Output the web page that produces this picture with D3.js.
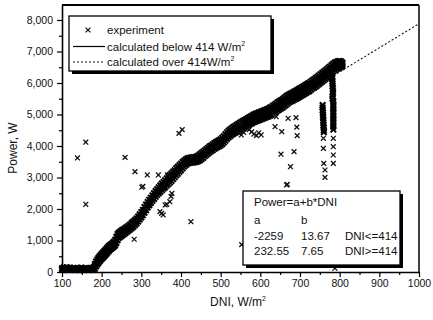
<!DOCTYPE html>
<html>
<head>
<meta charset="utf-8">
<script src="https://cdn.jsdelivr.net/npm/d3@7"></script>
<style>
  body { margin: 0; background: #fff; }
  svg { display: block; font-family: "Liberation Sans", Arial, sans-serif; }
</style>
</head>
<body>
<svg id="chart" width="433" height="320"></svg>
<script>
// ---- data ----
const xTicks = [100, 200, 300, 400, 500, 600, 700, 800, 900, 1000];
const xMinor = [150, 250, 350, 450, 550, 650, 750, 850, 950];
const yTicks = [0, 1000, 2000, 3000, 4000, 5000, 6000, 7000, 8000];
const yMinor = [500, 1500, 2500, 3500, 4500, 5500, 6500, 7500];

// experiment: each row is [DNI, power readings at that DNI...]
const bandRows = [
  [100, 60, 120], [104, 80, 140], [108, 70, 110], [112, 90, 150], [116, 60, 120],
  [120, 80, 140], [124, 70, 110], [128, 90, 130], [132, 60, 120], [136, 80, 100],
  [140, 70, 130], [144, 60, 110], [148, 80, 140], [152, 70, 120], [156, 60, 100],
  [160, 80, 130], [164, 70, 120], [168, 60, 110], [172, 80, 130], [176, 70, 120],
  [180, 90, 160],
  [183, 110, 180, 250], [186, 180, 260, 330], [189, 240, 320, 400], [192, 290, 370, 450],
  [195, 340, 420, 500], [198, 390, 470, 540], [201, 430, 510, 590], [204, 470, 550, 630],
  [207, 510, 590, 670], [210, 550, 630, 710], [213, 590, 670, 750], [216, 640, 710, 790],
  [219, 680, 750, 830], [222, 720, 790, 860], [225, 750, 820, 890], [228, 780, 850, 920],
  [231, 810, 880, 960], [234, 850, 930, 1020], [237, 920, 1020, 1120], [240, 1010, 1110, 1200],
  [243, 1080, 1160, 1240], [246, 1110, 1190, 1270], [249, 1140, 1220, 1300], [252, 1170, 1250, 1330],
  [256, 1200, 1280, 1360], [260, 1240, 1320, 1400], [264, 1280, 1360, 1430], [268, 1320, 1400, 1470],
  [272, 1360, 1440, 1510], [276, 1400, 1480, 1560], [280, 1440, 1520, 1600], [284, 1490, 1570, 1650],
  [288, 1540, 1620, 1700], [292, 1600, 1680, 1760], [296, 1670, 1750, 1830], [300, 1730, 1810, 1900],
  [304, 1800, 1890, 1970], [308, 1880, 1970, 2060], [312, 1960, 2050, 2140], [316, 2050, 2130, 2220],
  [320, 2120, 2200, 2290], [324, 2190, 2270, 2360], [328, 2260, 2340, 2430], [332, 2320, 2410, 2500],
  [336, 2390, 2480, 2570], [340, 2450, 2540, 2630], [344, 2500, 2590, 2690], [348, 2550, 2650, 2750],
  [352, 2600, 2700, 2810], [356, 2650, 2750, 2860], [360, 2690, 2800, 2910], [364, 2750, 2860, 2970],
  [368, 2790, 2900, 3020], [372, 2840, 2960, 3080], [376, 2890, 3010, 3130], [380, 2950, 3060, 3180],
  [384, 3010, 3120, 3230], [388, 3070, 3180, 3290], [392, 3120, 3230, 3340], [396, 3180, 3280, 3390],
  [400, 3230, 3340, 3440], [404, 3290, 3390, 3490], [408, 3350, 3440, 3530], [412, 3400, 3480, 3570],
  [416, 3440, 3520, 3600], [420, 3460, 3540, 3620], [424, 3470, 3550, 3630], [428, 3480, 3560, 3640],
  [432, 3480, 3560, 3640], [436, 3490, 3570, 3650], [440, 3500, 3590, 3670], [444, 3520, 3610, 3700],
  [448, 3550, 3640, 3740], [452, 3590, 3680, 3780], [456, 3630, 3720, 3820], [460, 3680, 3770, 3860],
  [464, 3720, 3810, 3900], [468, 3760, 3850, 3940], [472, 3800, 3890, 3980], [476, 3840, 3920, 4010],
  [480, 3870, 3960, 4050], [484, 3910, 4000, 4090], [488, 3940, 4030, 4120], [492, 3970, 4060, 4150],
  [496, 3990, 4080, 4180], [500, 4020, 4110, 4210], [504, 4060, 4160, 4260], [508, 4110, 4210, 4310],
  [512, 4170, 4270, 4370], [516, 4230, 4330, 4430], [520, 4280, 4380, 4480], [524, 4320, 4420, 4520],
  [528, 4360, 4460, 4560], [532, 4390, 4490, 4600], [536, 4420, 4520, 4630], [540, 4450, 4560, 4670],
  [544, 4470, 4580, 4700], [548, 4490, 4610, 4730], [552, 4520, 4640, 4760], [556, 4550, 4670, 4790],
  [560, 4590, 4700, 4820], [564, 4620, 4730, 4850], [568, 4650, 4760, 4880], [572, 4680, 4790, 4910],
  [576, 4710, 4820, 4940], [580, 4730, 4850, 4970], [584, 4760, 4880, 5000], [588, 4780, 4900, 5020],
  [592, 4800, 4920, 5040], [596, 4820, 4940, 5060], [600, 4840, 4960, 5080], [604, 4860, 4980, 5100],
  [608, 4880, 5000, 5120], [612, 4900, 5020, 5140], [616, 4920, 5040, 5160], [620, 4940, 5060, 5180],
  [624, 4960, 5080, 5210], [628, 4990, 5110, 5240], [632, 5030, 5150, 5280], [636, 5060, 5180, 5310],
  [640, 5090, 5220, 5350], [644, 5130, 5260, 5390], [648, 5160, 5290, 5420], [652, 5190, 5320, 5450],
  [656, 5220, 5350, 5480], [660, 5260, 5390, 5520], [664, 5300, 5430, 5560], [668, 5340, 5470, 5600],
  [672, 5380, 5500, 5630], [676, 5410, 5530, 5660], [680, 5430, 5550, 5680], [684, 5460, 5580, 5710],
  [688, 5490, 5610, 5740], [692, 5510, 5640, 5770], [696, 5540, 5670, 5800], [700, 5570, 5700, 5830],
  [704, 5600, 5730, 5860], [708, 5630, 5760, 5890], [712, 5660, 5790, 5920], [716, 5690, 5820, 5950],
  [720, 5720, 5850, 5980], [724, 5750, 5880, 6010], [728, 5790, 5920, 6050], [732, 5830, 5960, 6090],
  [736, 5860, 5990, 6120], [740, 5890, 6020, 6160], [744, 5930, 6060, 6200], [748, 5970, 6100, 6240],
  [752, 6010, 6140, 6280], [756, 6050, 6180, 6320], [760, 6090, 6220, 6360], [764, 6130, 6260, 6400],
  [768, 6170, 6300, 6440], [772, 6220, 6350, 6480], [776, 6270, 6400, 6520], [780, 6320, 6440, 6570],
  [784, 6370, 6490, 6610], [788, 6410, 6530, 6650], [792, 6440, 6560, 6670], [796, 6470, 6580, 6690],
  [800, 6490, 6600, 6700], [804, 6510, 6600, 6680], [807, 6540, 6600, 6640],
];

// drop-outs hanging below the band near 760 and 785 W/m2
const streakRows = [
  [757, 5300, 5220, 5140], [758, 5060, 4980, 4900], [759, 4820, 4740, 4660], [760, 4580, 4500, 4440],
  [781, 6300, 6220, 6140], [782, 6060, 5980, 5900], [783, 5820, 5740, 5660], [782, 5580, 5500],
  [784, 5420, 5330, 5240, 5150, 5060, 4970, 4880, 4790, 4700, 4610, 4520],
];

// isolated experiment points
const outliers = [
  [139, 3620], [160, 4120], [160, 2150], [259, 3640], [284, 3185], [315, 3080], [343, 3080],
  [366, 3080], [301, 2690], [304, 2720], [282, 1040], [347, 1915], [351, 1860], [355, 1810],
  [360, 2127], [364, 2150], [372, 2232], [377, 2497], [375, 2400], [395, 4400], [403, 4520],
  [425, 1597], [553, 870], [549, 4730], [546, 4400], [552, 4350], [558, 4430], [572, 4520],
  [578, 4450], [584, 4380], [590, 4330], [596, 4420], [602, 4350], [640, 4930], [637, 4613],
  [654, 4454], [670, 4880], [690, 4900], [692, 4600], [693, 4330], [652, 3740], [685, 3820],
  [676, 3343], [666, 2762], [668, 2780], [759, 4244], [759, 3926], [760, 3450], [763, 3238],
  [763, 3005], [784, 4244], [784, 3978], [784, 3714], [784, 3450], [788, 120],
];

// calculated lines, Power = a + b*DNI
const belowLine = [[165, 0], [414, 3400]];
const overLine = [[414, 3400], [1000, 7882]];

const fitTitle = 'Power=a+b*DNI';
const fitRows = [
  ['a', 'b', ''],
  ['-2259', '13.67', 'DNI<=414'],
  ['232.55', '7.65', 'DNI>=414'],
];

// ---- layout ----
const plot = { left: 62, right: 419, top: 5, bottom: 272 };
const svg = d3.select('#chart');
svg.append('rect').attr('width', 433).attr('height', 320).attr('fill', '#fff');

const x = d3.scaleLinear().domain([100, 1000]).range([plot.left, plot.right]);
const y = d3.scaleLinear().domain([0, 8476]).range([plot.bottom, plot.top]);

const densePoints = bandRows.concat(streakRows)
  .flatMap((r) => r.slice(1).map((p) => [r[0], p]));

const cross = 'M-2.4,-2.4L2.4,2.4M-2.4,2.4L2.4,-2.4';
const crossBig = 'M-2.8,-2.8L2.8,2.8M-2.8,2.8L2.8,-2.8';

// calculated lines
const line = d3.line().x((d) => x(d[0])).y((d) => y(d[1]));
svg.append('path').attr('d', line(belowLine))
  .attr('fill', 'none').attr('stroke', '#000').attr('stroke-width', 1.2);
svg.append('path').attr('d', line(overLine))
  .attr('fill', 'none').attr('stroke', '#111').attr('stroke-width', 1.1)
  .attr('stroke-dasharray', '2,2');

// experiment markers: dense band, then isolated points
svg.append('g').selectAll('path')
  .data(densePoints)
  .join('path')
  .attr('transform', (d) => `translate(${x(d[0])},${y(d[1])})`)
  .attr('d', crossBig)
  .attr('fill', 'none')
  .attr('stroke', '#000')
  .attr('stroke-width', 2);

svg.append('g').selectAll('path')
  .data(outliers)
  .join('path')
  .attr('transform', (d) => `translate(${x(d[0])},${y(d[1])})`)
  .attr('d', cross)
  .attr('fill', 'none')
  .attr('stroke', '#111')
  .attr('stroke-width', 1.3);

// axes
svg.append('g')
  .attr('transform', `translate(0,${plot.bottom})`)
  .call(d3.axisBottom(x).tickValues(xTicks).tickSize(5).tickSizeOuter(0)
    .tickPadding(3).tickFormat(d3.format('d')));
svg.append('g')
  .attr('transform', `translate(0,${plot.bottom})`)
  .call(d3.axisBottom(x).tickValues(xMinor).tickSize(3).tickSizeOuter(0).tickFormat(''))
  .call((g) => g.select('.domain').remove());

svg.append('g')
  .attr('transform', `translate(${plot.left},0)`)
  .call(d3.axisLeft(y).tickValues(yTicks).tickSize(5).tickSizeOuter(0)
    .tickPadding(4).tickFormat(d3.format(',')));
svg.append('g')
  .attr('transform', `translate(${plot.left},0)`)
  .call(d3.axisLeft(y).tickValues(yMinor).tickSize(3).tickSizeOuter(0).tickFormat(''))
  .call((g) => g.select('.domain').remove());

svg.selectAll('.domain').attr('stroke', '#000').attr('stroke-width', 1.6);
svg.selectAll('.tick line').attr('stroke', '#000').attr('stroke-width', 1.2);
svg.selectAll('.tick text')
  .attr('fill', '#111')
  .attr('font-size', 10.5)
  .attr('font-family', '"Liberation Sans", Arial, sans-serif');

// frame: top and right
svg.append('line').attr('x1', plot.left).attr('x2', plot.right)
  .attr('y1', plot.top).attr('y2', plot.top)
  .attr('stroke', '#000').attr('stroke-width', 2);
svg.append('line').attr('x1', plot.right).attr('x2', plot.right)
  .attr('y1', plot.top).attr('y2', plot.bottom)
  .attr('stroke', '#000').attr('stroke-width', 1.5);

// axis titles
svg.append('text')
  .attr('transform', 'translate(17,148) rotate(-90)')
  .attr('text-anchor', 'middle')
  .attr('font-size', 12)
  .attr('fill', '#111')
  .text('Power, W');

const xt = svg.append('text')
  .attr('x', 238).attr('y', 306)
  .attr('text-anchor', 'middle')
  .attr('font-size', 12)
  .attr('fill', '#111');
xt.append('tspan').text('DNI, W/m');
xt.append('tspan').attr('dy', -5).attr('font-size', 7).text('2');

// boxed panel with drop shadow
function shadowBox(bx, by, bw, bh) {
  svg.append('rect').attr('x', bx + 3).attr('y', by + 3).attr('width', bw).attr('height', bh)
    .attr('fill', '#000');
  svg.append('rect').attr('x', bx).attr('y', by).attr('width', bw).attr('height', bh)
    .attr('fill', '#fff').attr('stroke', '#000').attr('stroke-width', 1.3);
}

// legend
shadowBox(69, 16, 202, 55);
const lg = svg.append('g').attr('font-size', 11.5).attr('fill', '#111');
lg.append('path').attr('transform', 'translate(88,30)').attr('d', cross)
  .attr('fill', 'none').attr('stroke', '#111').attr('stroke-width', 1.2);
lg.append('text').attr('x', 107).attr('y', 34).text('experiment');

lg.append('line').attr('x1', 73).attr('x2', 105).attr('y1', 46.5).attr('y2', 46.5)
  .attr('stroke', '#000').attr('stroke-width', 1.2);
const t2 = lg.append('text').attr('x', 107).attr('y', 50.5);
t2.append('tspan').text('calculated below 414 W/m');
t2.append('tspan').attr('dy', -5).attr('font-size', 7).text('2');

lg.append('line').attr('x1', 73).attr('x2', 105).attr('y1', 62).attr('y2', 62)
  .attr('stroke', '#111').attr('stroke-width', 1.1).attr('stroke-dasharray', '2,2');
const t3 = lg.append('text').attr('x', 107).attr('y', 66);
t3.append('tspan').text('calculated over 414W/m');
t3.append('tspan').attr('dy', -5).attr('font-size', 7).text('2');

// fit table
shadowBox(243, 191, 157, 74);
const ft = svg.append('g').attr('font-size', 11.5).attr('fill', '#111');
ft.append('text').attr('x', 254).attr('y', 206).text(fitTitle);
const colX = [254, 301, 345];
const rowY = [223.5, 239.5, 254.5];
fitRows.forEach((row, i) => {
  row.forEach((cell, j) => {
    ft.append('text').attr('x', colX[j]).attr('y', rowY[i]).text(cell);
  });
});
</script>
</body>
</html>
